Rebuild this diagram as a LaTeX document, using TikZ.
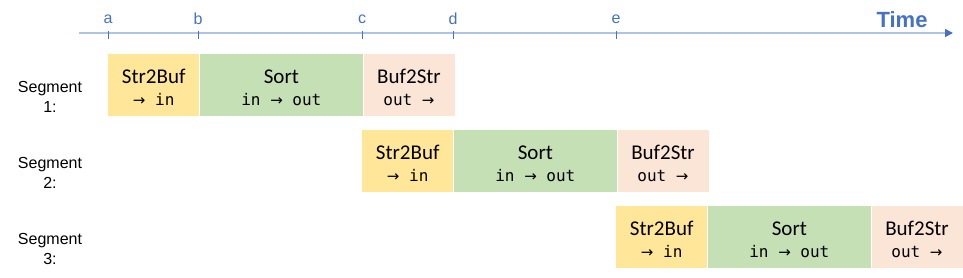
\documentclass[tikz,border=0pt]{standalone}
\usepackage{fontspec}
\setmainfont{Liberation Sans}
\setmonofont{DejaVu Sans Mono}
\newfontfamily\stagefont{Carlito}
\newfontfamily\arrowfont{DejaVu Sans}
\newcommand{\flow}{{\arrowfont\fontsize{15}{18}\selectfont →}}
\usetikzlibrary{positioning, arrows.meta}
\definecolor{timeblue}{HTML}{4472C4}
\definecolor{timeline}{HTML}{AFC3E6}
\definecolor{bufyellow}{HTML}{FFE699}
\definecolor{sortgreen}{HTML}{C5E0B4}
\definecolor{strpeach}{HTML}{FBE5D6}

\begin{document}
\begin{tikzpicture}[x=1pt, y=-1pt,
    stage/.style={minimum height=61.5pt, inner sep=0pt, align=center,
      font=\fontsize{21}{23}\selectfont\stagefont},
    seglabel/.style={align=center, font=\fontsize{16}{20}\selectfont},
    ticklabel/.style={timeblue, font=\fontsize{16}{19}\selectfont}]
        \useasboundingbox (0,0) rectangle (963,277);
        % time axis
        \coordinate (t0) at (79,33);
        \coordinate (t1) at (953,33);
        \draw[timeline, line width=1.6pt, -{Triangle[length=8pt, width=8pt, color=timeblue]}] (t0) -- (t1);
        \node[timeblue, font=\fontsize{22}{24}\selectfont\bfseries] (time) at (902,20) {Time};
        \foreach \name/\x in {a/108, b/198, c/362, d/453, e/616} {
          \draw[timeblue, line width=0.8pt] (\x,31) -- (\x,38.5);
          \node[ticklabel] (\name) at (\x,19) {\name};
        }
        % segments
        \foreach \i/\x/\y in {1/108/54, 2/362/130, 3/616/206} {
          \node[stage, fill=bufyellow, minimum width=91pt, anchor=north west] (buf\i) at (\x,\y)
            {\rule{0pt}{19.5pt}Str2Buf\\[-1.5pt]{\fontsize{16}{18}\ttfamily \flow{} in}};
          \node[stage, fill=sortgreen, minimum width=163.5pt, right=0pt of buf\i] (sort\i)
            {\rule{0pt}{19.5pt}Sort\\[-1.5pt]{\fontsize{16}{18}\ttfamily in \flow{} out}};
          \node[stage, fill=strpeach, minimum width=91pt, right=0pt of sort\i] (str\i)
            {\rule{0pt}{19.5pt}Buf2Str\\[-1.5pt]{\fontsize{16}{18}\ttfamily out \flow}};
          \node[seglabel, anchor=north] (seg\i) at (50,\y+23.5) {Segment\\\i:};
        }
      \end{tikzpicture}
\end{document}
